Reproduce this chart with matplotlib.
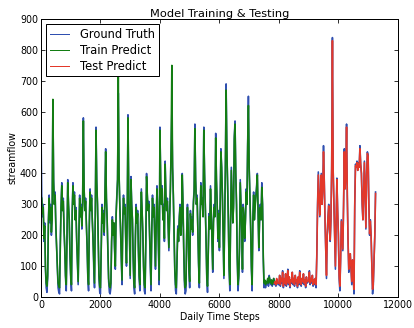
import matplotlib
matplotlib.use("Agg")
import matplotlib.pyplot as plt
import numpy as np

step = 25

# Ground truth streamflow sampled every 25 daily steps (0 .. 11250)
truth = [
    # 0 - 975
    560, 330, 260, 300, 180, 240, 90, 30, 15, 60, 250, 330, 240, 300, 200, 260, 620, 380, 300, 340,
    220, 160, 90, 30, 15, 10, 180, 300, 370, 280, 320, 220, 150, 60, 20, 200, 380, 300, 250, 130,
    # 1000 - 1975
    60, 20, 280, 370, 300, 340, 250, 290, 180, 110, 40, 200, 330, 260, 300, 220, 310, 580, 350, 280,
    320, 240, 160, 60, 20, 240, 350, 280, 330, 250, 190, 90, 30, 260, 550, 380, 300, 180, 60, 15,
    # 2000 - 2975
    10, 150, 300, 240, 280, 200, 330, 480, 320, 250, 140, 50, 15, 10, 30, 180, 260, 200, 240, 150,
    90, 270, 330, 380, 660, 400, 300, 220, 120, 40, 250, 330, 270, 300, 180, 100, 260, 590, 350, 200,
    # 3000 - 3975
    60, 390, 300, 250, 120, 30, 10, 200, 300, 240, 280, 150, 60, 20, 250, 350, 280, 200, 90, 20,
    10, 180, 400, 330, 280, 310, 200, 100, 20, 220, 330, 260, 300, 180, 90, 250, 360, 280, 150, 40,
    # 4000 - 4975
    550, 380, 300, 360, 250, 300, 180, 440, 330, 280, 320, 230, 150, 260, 350, 480, 600, 420, 330, 200,
    80, 20, 10, 120, 230, 180, 260, 300, 200, 240, 400, 300, 150, 40, 10, 20, 210, 300, 220, 80,
    # 5000 - 5975
    30, 280, 220, 260, 200, 310, 350, 560, 380, 300, 330, 220, 100, 30, 250, 370, 300, 320, 260, 550,
    400, 300, 180, 60, 15, 150, 270, 220, 360, 280, 190, 80, 250, 300, 260, 530, 380, 300, 180, 280,
    # 6000 - 6975
    150, 300, 480, 420, 330, 200, 60, 250, 420, 690, 480, 360, 250, 90, 20, 250, 420, 330, 240, 300,
    520, 570, 400, 300, 120, 20, 60, 160, 380, 300, 220, 80, 300, 260, 180, 250, 350, 300, 500, 650,
    # 7000 - 7975
    420, 330, 220, 90, 20, 260, 340, 250, 300, 330, 360, 400, 280, 150, 250, 300, 250, 370, 300, 120,
    30, 50, 30, 45, 40, 60, 35, 70, 50, 40, 55, 35, 45, 60, 40, 50, 35, 55, 45, 40,
    # 8000 - 8975
    40, 70, 35, 60, 45, 85, 30, 55, 40, 75, 35, 50, 90, 40, 65, 30, 55, 45, 80, 40,
    60, 35, 70, 45, 55, 30, 65, 40, 85, 50, 35, 60, 45, 75, 40, 55, 30, 65, 45, 50,
    # 9000 - 9975
    50, 85, 40, 60, 45, 70, 35, 55, 40, 60, 30, 140, 300, 405, 330, 260, 330, 400, 300, 350,
    490, 380, 250, 150, 60, 200, 260, 300, 220, 180, 250, 420, 840, 410, 300, 180, 90, 250, 385, 280,
    # 10000 - 10975
    200, 60, 20, 120, 250, 200, 150, 300, 480, 350, 400, 560, 330, 180, 80, 100, 140, 90, 40, 120,
    60, 10, 300, 430, 420, 440, 410, 435, 420, 490, 430, 400, 300, 250, 350, 440, 330, 220, 400, 470,
    # 11000 - 11250
    460, 300, 200, 250, 200, 100, 10, 40, 120, 200, 340,
]

# Train predictions (25 .. 7850)
train_pred = [
    # 25 - 975
    320, 270, 290, 190, 230, 100, 45, 35, 70, 240, 320, 250, 290, 210, 250, 640, 370, 300, 330, 230,
    160, 100, 45, 35, 30, 170, 290, 360, 280, 310, 220, 160, 70, 40, 190, 370, 300, 250, 140,
    # 1000 - 1975
    70, 40, 270, 360, 300, 330, 250, 280, 190, 120, 50, 200, 320, 260, 290, 230, 300, 570, 350, 280,
    310, 240, 170, 70, 40, 230, 340, 280, 320, 250, 190, 100, 45, 250, 540, 370, 300, 190, 70, 35,
    # 2000 - 2975
    30, 150, 290, 240, 270, 210, 320, 470, 320, 250, 150, 60, 35, 30, 45, 180, 250, 200, 240, 160,
    100, 260, 320, 380, 715, 400, 300, 220, 130, 55, 240, 320, 270, 290, 190, 110, 250, 580, 350, 210,
    # 3000 - 3975
    70, 380, 300, 250, 130, 45, 30, 190, 290, 240, 270, 160, 70, 40, 240, 340, 280, 210, 100, 40,
    30, 180, 390, 330, 280, 300, 210, 110, 40, 210, 320, 260, 290, 190, 100, 240, 350, 280, 160, 55,
    # 4000 - 4975
    540, 380, 300, 350, 250, 290, 190, 430, 330, 280, 310, 230, 160, 250, 340, 480, 750, 420, 330, 210,
    90, 40, 30, 120, 220, 180, 250, 290, 200, 240, 395, 300, 160, 55, 30, 40, 200, 290, 220, 90,
    # 5000 - 5975
    50, 270, 220, 250, 210, 300, 340, 545, 380, 300, 320, 220, 110, 45, 240, 360, 300, 310, 260, 540,
    400, 300, 190, 70, 35, 150, 260, 220, 350, 280, 190, 90, 240, 290, 260, 515, 380, 300, 190, 270,
    # 6000 - 6975
    160, 300, 470, 420, 330, 210, 70, 240, 410, 670, 480, 360, 250, 100, 40, 240, 410, 330, 240, 290,
    510, 560, 400, 300, 130, 40, 70, 160, 370, 300, 220, 90, 290, 260, 190, 250, 340, 300, 490, 620,
    # 7000 - 7850
    420, 330, 230, 100, 40, 250, 330, 250, 290, 320, 350, 395, 280, 160, 250, 290, 250, 355, 300, 130,
    45, 55, 40, 50, 45, 60, 45, 65, 55, 45, 55, 40, 50, 60, 45,
]
train_start = 25

# Test predictions (7850 .. 11250)
test_pred = [
    # 7850 - 7975
    45, 50, 40, 60, 45, 45,
    # 8000 - 8975
    45, 70, 40, 60, 50, 80, 35, 60, 45, 75, 40, 55, 85, 45, 65, 35, 55, 50, 80, 45,
    60, 40, 70, 50, 55, 35, 65, 45, 80, 50, 40, 60, 50, 75, 45, 55, 35, 65, 50, 50,
    # 9000 - 9975
    55, 80, 45, 60, 50, 70, 40, 55, 45, 60, 40, 130, 290, 395, 330, 265, 325, 395, 300, 345,
    470, 375, 255, 155, 70, 200, 255, 295, 225, 185, 250, 415, 830, 405, 300, 185, 100, 245, 380, 280,
    # 10000 - 10975
    205, 70, 35, 120, 245, 200, 155, 295, 470, 350, 395, 550, 330, 185, 90, 105, 140, 95, 50, 120,
    65, 25, 290, 425, 420, 435, 410, 430, 420, 480, 430, 400, 305, 250, 345, 435, 330, 225, 395, 465,
    # 11000 - 11250
    455, 300, 205, 245, 200, 105, 25, 50, 120, 200, 335,
]
test_start = 7850

x_truth = np.arange(len(truth)) * step
x_train = train_start + np.arange(len(train_pred)) * step
x_test = test_start + np.arange(len(test_pred)) * step

plt.rcParams['font.family'] = ['DejaVu Sans']
fig = plt.figure(figsize=(414 / 72, 328 / 72), dpi=72)
ax = fig.add_axes([0.099, 0.0945, 0.862, 0.8475])

ax.plot(x_truth, truth, color='#2f4fb0', lw=1.6, label='Ground Truth')
ax.plot(x_train, train_pred, color='#137d13', lw=1.6, label='Train Predict')
ax.plot(x_test, test_pred, color='#e3382a', lw=1.6, label='Test Predict')

ax.set_xlim(0, 12000)
ax.set_ylim(0, 900)
ax.set_xticks(np.arange(0, 12001, 2000))
ax.set_yticks(np.arange(0, 901, 100))
ax.tick_params(direction='in', top=True, right=True, labelsize=9.5, length=4, pad=3)
for s in ax.spines.values():
    s.set_linewidth(1.0)

ax.set_title('Model Training & Testing', fontsize=11.4, pad=2)
ax.set_xlabel('Daily Time Steps', fontsize=9.5, labelpad=2)
ax.set_ylabel('streamflow', fontsize=9.5, labelpad=2)

leg = ax.legend(loc='upper left', fontsize=11.5, fancybox=False, framealpha=1,
                edgecolor='black', borderaxespad=0.45, handlelength=1.65,
                handletextpad=1.0, labelspacing=0.27, borderpad=0.3)
leg.get_frame().set_linewidth(1.0)
for line in leg.get_lines():
    line.set_linewidth(1.0)

fig.savefig('out.png', dpi=72)
